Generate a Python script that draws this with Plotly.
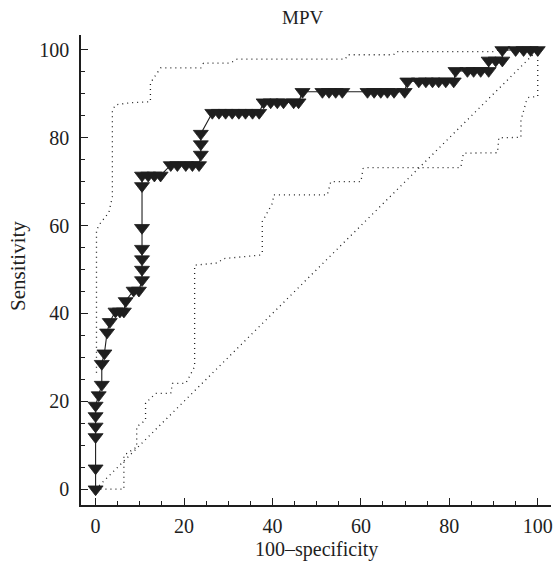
import plotly.graph_objects as go

# ROC curve points (100-specificity, sensitivity)
roc_fpr = [0, 0, 0, 0, 0, 0, 0.7, 1.4, 1.4, 2.0, 2.6, 3.2, 4.5, 5.5, 6.4, 6.8, 8.6, 9.8,
           10.5, 10.5, 10.5, 10.5, 10.5, 10.5, 10.5, 11.9, 13.3, 14.7,
           17.0, 18.5, 20.4, 21.9, 23.4, 23.8, 23.8, 23.8,
           26.4, 27.9, 29.4, 30.9, 32.4, 33.9, 35.5, 37.0,
           38.0, 39.6, 41.1, 42.5, 44.8, 45.9,
           46.8, 51.3, 52.8, 54.3, 55.8, 61.5, 63.0, 64.5, 66.0, 67.5, 69.9,
           70.5, 73.1, 74.7, 76.2, 77.6, 79.2, 81.0,
           81.4, 84.1, 85.5, 87.1, 88.9,
           88.9, 90.5, 92.0,
           92.0, 95.0, 96.8, 98.4, 100.0]
roc_sens = [0, 4.76, 11.90, 14.29, 16.67, 19.05, 21.43, 23.81, 28.57, 30.95, 35.71, 38.10, 40.48, 40.48, 40.48, 42.86, 45.24, 45.24,
            47.62, 50.00, 52.38, 54.76, 59.52, 69.05, 71.43, 71.43, 71.43, 71.43,
            73.81, 73.81, 73.81, 73.81, 73.81, 76.19, 78.57, 80.95,
            85.71, 85.71, 85.71, 85.71, 85.71, 85.71, 85.71, 85.71,
            88.10, 88.10, 88.10, 88.10, 88.10, 88.10,
            90.48, 90.48, 90.48, 90.48, 90.48, 90.48, 90.48, 90.48, 90.48, 90.48, 90.48,
            92.86, 92.86, 92.86, 92.86, 92.86, 92.86, 92.86,
            95.24, 95.24, 95.24, 95.24, 95.24,
            97.62, 97.62, 97.62,
            100, 100, 100, 100, 100]

# Upper 95% confidence bound
upper_fpr = [0.2, 0.2, 1.1, 3.0, 3.8, 3.8, 4.5, 8.0, 12.4, 12.4, 14.7, 23.8, 24.4, 30.5, 32.0, 56.5, 57.0, 67.4, 68.0, 90.0, 91.0, 100.0]
upper_sens = [26.5, 59.0, 60.6, 63.0, 66.6, 86.3, 87.5, 88.0, 88.2, 92.5, 95.9, 95.9, 97.0, 97.0, 97.9, 97.9, 98.9, 98.9, 99.6, 99.6, 100.0, 100.0]

# Lower 95% confidence bound
lower_fpr = [1.1, 6.4, 6.4, 9.3, 9.3, 11.3, 11.3, 13.6, 17.0, 17.4, 20.4, 22.4, 22.4, 27.5, 29.0, 37.3, 37.7, 37.7, 40.0, 40.3, 52.4, 53.0, 53.2, 60.0, 60.5, 61.5, 82.6, 83.2, 90.9, 91.2, 96.2, 96.2, 97.5, 98.0, 100.0, 100.0]
lower_sens = [0.0, 0.0, 7.7, 9.6, 14.2, 15.7, 19.6, 21.8, 21.8, 24.1, 24.1, 27.9, 51.0, 51.5, 52.5, 53.3, 53.8, 60.9, 65.1, 67.0, 67.0, 69.7, 70.0, 70.0, 73.0, 73.2, 73.2, 76.5, 76.6, 80.0, 80.1, 84.0, 88.6, 89.2, 89.4, 100.0]

# Reference diagonal
diag_fpr = [0, 100]
diag_sens = [0, 100]

x_ticks = [0, 20, 40, 60, 80, 100]
y_ticks = [0, 20, 40, 60, 80, 100]

SERIF = "Liberation Serif, Times New Roman, DejaVu Serif, serif"
dotted = "1px,4px"
INK = "#1e1e1e"

fig = go.Figure()
for xs, ys in [(diag_fpr, diag_sens), (upper_fpr, upper_sens), (lower_fpr, lower_sens)]:
    fig.add_trace(go.Scatter(x=xs, y=ys, mode="lines",
                             line=dict(color=INK, width=1.3, dash=dotted), hoverinfo="skip"))
fig.add_trace(go.Scatter(x=roc_fpr, y=roc_sens, mode="lines+markers",
                         line=dict(color=INK, width=1.1),
                         marker=dict(symbol="triangle-down", size=13, color=INK,
                                     line=dict(color=INK, width=0.8))))

axis_common = dict(
    showgrid=False, zeroline=False, showline=True, linecolor=INK, linewidth=1.5,
    ticks="inside", ticklen=7, tickwidth=1.2, tickcolor=INK,
    tickfont=dict(family=SERIF, size=20, color=INK),
    minor=dict(ticks="inside", ticklen=4, tickwidth=1, tickcolor=INK, dtick=5, showgrid=False),
    mirror=False, automargin=False,
)

L, R, T, B = 81, 2, 35, 59
W, H = 553, 564
PW, PH = W - L - R, H - T - B

fig.update_layout(
    width=W, height=H,
    margin=dict(l=L, r=R, t=T, b=B, autoexpand=False),
    plot_bgcolor="white", paper_bgcolor="white",
    showlegend=False,
    xaxis=dict(range=[-3.3, 103], tickvals=x_ticks, ticklabelstandoff=2, **axis_common),
    yaxis=dict(range=[-3.6, 103.4], tickvals=y_ticks, ticklabelstandoff=6, **axis_common),
    annotations=[
        dict(text="MPV", x=(302 - L) / PW, y=1 + (T - 17) / PH, xref="paper", yref="paper",
             showarrow=False, font=dict(family=SERIF, size=19, color=INK),
             xanchor="center", yanchor="middle"),
        dict(text="100–specificity", x=(316 - L) / PW, y=-(549 - (T + PH)) / PH, xref="paper", yref="paper",
             showarrow=False, font=dict(family=SERIF, size=20, color=INK),
             xanchor="center", yanchor="middle"),
        dict(text="Sensitivity", x=-(L - 18) / PW, y=1 - (266 - T) / PH, xref="paper", yref="paper",
             showarrow=False, textangle=-90, font=dict(family=SERIF, size=21, color=INK),
             xanchor="center", yanchor="middle"),
    ],
)

fig.write_html("out.html", config={"displayModeBar": False},
               post_script="document.body.style.margin='0';document.body.style.overflow='hidden';")
